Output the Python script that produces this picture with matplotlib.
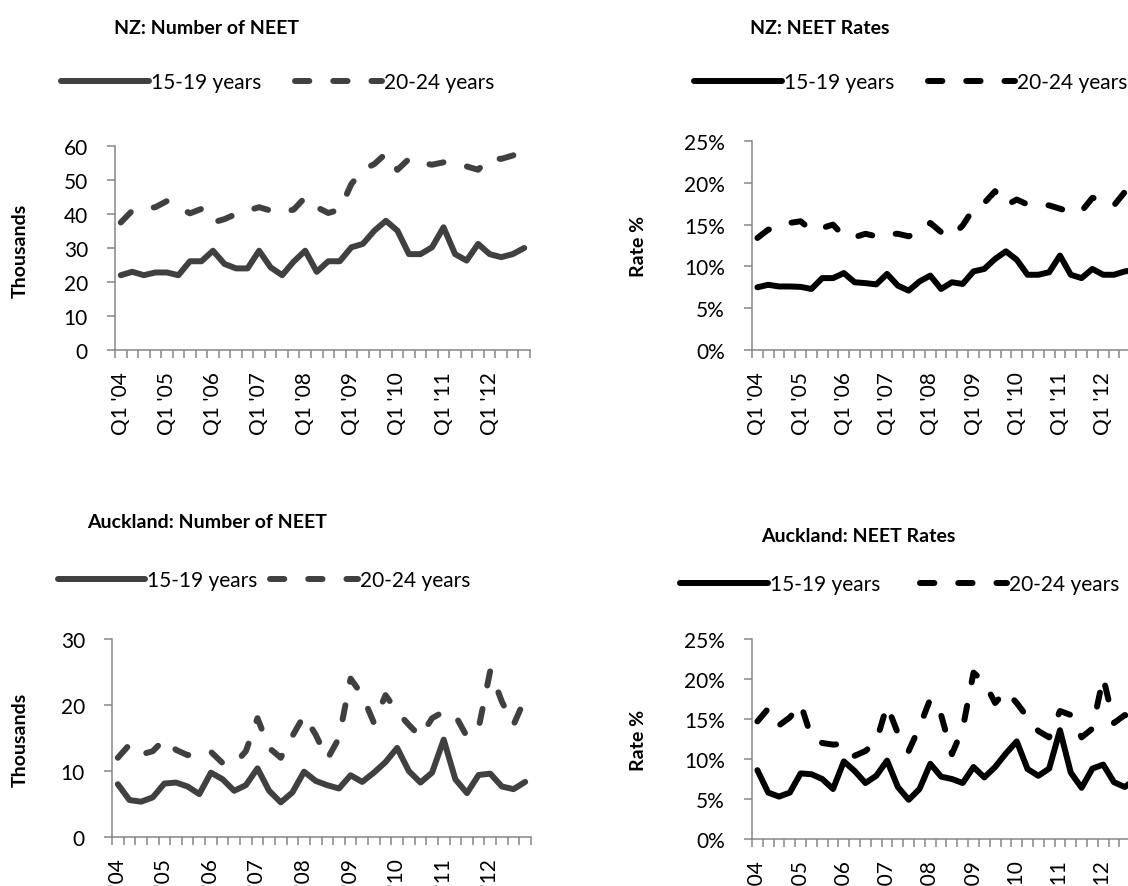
import matplotlib.pyplot as plt
from matplotlib.ticker import FuncFormatter
import numpy as np

# DATA (Q1 2004 .. Q4 2012)
years = ["04", "05", "06", "07", "08", "09", "10", "11", "12"]
quarters = ["Q%d '%s" % (q, y) for y in years for q in range(1, 5)]

nz_num_1519 = [22.0, 23.0, 22.0, 22.8, 22.8, 22.0, 26.1, 26.1, 29.2, 25.3, 24.0, 24.0,
               29.2, 24.3, 22.0, 26.0, 29.2, 23.0, 26.1, 26.1, 30.2, 31.2, 35.1, 38.0,
               35.1, 28.2, 28.2, 30.2, 36.1, 28.2, 26.3, 31.2, 28.2, 27.3, 28.2, 30.0]
nz_num_2024 = [37.5, 41.0, 41.5, 42.0, 43.8, 42.0, 40.2, 41.5, 37.5, 38.5, 40.0, 41.0,
               42.0, 41.0, 40.5, 41.3, 44.9, 42.0, 40.3, 41.3, 48.8, 53.0, 54.7, 57.8,
               53.0, 56.2, 55.0, 54.5, 55.2, 54.3, 54.0, 53.0, 56.5, 56.2, 57.2, 58.5]

nz_rate_1519 = [7.5, 7.8, 7.6, 7.6, 7.55, 7.3, 8.6, 8.6, 9.2, 8.1, 8.0, 7.85,
                9.1, 7.7, 7.1, 8.2, 8.9, 7.3, 8.1, 7.9, 9.4, 9.7, 10.9, 11.8,
                10.8, 9.0, 9.0, 9.3, 11.3, 9.0, 8.6, 9.7, 9.0, 9.0, 9.4, 9.6]
nz_rate_2024 = [13.4, 14.4, 14.6, 15.2, 15.4, 14.3, 14.6, 15.0, 13.6, 13.5, 13.9, 13.6,
                13.9, 13.9, 13.6, 14.2, 15.2, 14.1, 13.6, 14.9, 16.9, 17.6, 19.0, 17.3,
                18.0, 17.4, 17.4, 17.3, 16.9, 16.5, 16.6, 18.2, 18.0, 17.3, 18.9, 19.2]

akl_num_1519 = [8.0, 5.6, 5.35, 6.0, 8.1, 8.25, 7.65, 6.5, 9.75, 8.75, 7.0, 7.85,
                10.4, 7.0, 5.25, 6.75, 9.9, 8.5, 7.85, 7.35, 9.35, 8.35, 9.75, 11.35,
                13.5, 10.0, 8.25, 9.75, 14.75, 8.75, 6.65, 9.4, 9.6, 7.65, 7.25, 8.35]
akl_num_2024 = [12.0, 14.0, 12.5, 13.0, 14.8, 13.2, 12.4, 12.8, 12.9, 11.2, 11.0, 13.0,
                18.0, 13.5, 12.0, 15.3, 18.4, 15.5, 11.8, 15.0, 24.0, 21.5, 17.3, 21.5,
                19.0, 17.0, 15.2, 18.0, 19.0, 18.4, 15.2, 16.5, 25.2, 20.5, 17.0, 21.0]

akl_rate_1519 = [8.6, 5.8, 5.3, 5.8, 8.2, 8.1, 7.5, 6.25, 9.7, 8.5, 7.0, 7.9,
                 9.8, 6.5, 4.9, 6.25, 9.4, 7.8, 7.5, 7.0, 9.0, 7.7, 9.0, 10.7,
                 12.2, 8.75, 7.9, 8.8, 13.6, 8.3, 6.4, 8.8, 9.3, 7.1, 6.5, 7.5]
akl_rate_2024 = [14.7, 16.3, 14.2, 15.2, 16.9, 12.7, 12.0, 11.8, 11.9, 10.4, 11.0, 12.2,
                 16.7, 13.2, 11.0, 14.0, 17.5, 15.5, 10.6, 13.8, 20.8, 19.6, 17.0, 18.5,
                 17.0, 15.2, 13.5, 12.7, 16.0, 15.5, 12.7, 13.8, 20.2, 14.5, 15.5, 15.0]

series_names = ["15-19 years", "20-24 years"]

# LAYOUT

W, H = 1128, 887
plt.rcParams['font.family'] = ['Lato', 'DejaVu Sans']
fig = plt.figure(figsize=(W / 100, H / 100), dpi=100)
AXIS_GREY = '#868686'


def box(x0, x1, ytop, ybot):
    return [x0 / W, 1 - ybot / H, (x1 - x0) / W, (ybot - ytop) / H]


def panel(rect, s1, s2, ymax, step, pct, color, title, title_xy, ylabel, ylab_xy, leg_xy, colsp):
    ax = fig.add_axes(rect)
    x = np.arange(len(quarters)) + 0.5
    ax.plot(x, s1, color=color, lw=4.3, solid_capstyle='round', solid_joinstyle='round',
            label=series_names[0])
    ax.plot(x, s2, color=color, lw=4.3, linestyle=(0, (2.4, 4.0)), dash_capstyle='round',
            dash_joinstyle='round', label=series_names[1])
    ax.set_xlim(0, len(quarters))
    ax.set_ylim(0, ymax)
    ax.set_yticks(np.arange(0, ymax + step / 2, step))
    if pct:
        ax.yaxis.set_major_formatter(FuncFormatter(lambda v, p: '%d%%' % round(v)))
    ax.set_xticks(x[::4])
    ax.set_xticklabels(quarters[::4], rotation=90)
    ax.set_xticks(np.arange(len(quarters) + 1), minor=True)
    ax.tick_params(axis='x', which='major', length=0, pad=15, labelsize=15)
    ax.tick_params(axis='x', which='minor', length=5.5, width=1.1, color=AXIS_GREY, direction='out')
    ax.tick_params(axis='y', length=5.5, width=1.1, color=AXIS_GREY, pad=14, labelsize=15)
    for s in ['top', 'right']:
        ax.spines[s].set_visible(False)
    for s in ['left', 'bottom']:
        ax.spines[s].set_color(AXIS_GREY)
        ax.spines[s].set_linewidth(1.1)
    ax.set_facecolor('none')

    fig.text(title_xy[0] / W, 1 - title_xy[1] / H, title, ha='center', va='center',
             fontsize=14, fontweight='bold')
    fig.text(ylab_xy[0] / W, 1 - ylab_xy[1] / H, ylabel, ha='center', va='center',
             rotation=90, fontsize=14, fontweight='bold')
    ax.legend(loc='center', bbox_to_anchor=(leg_xy[0] / W, 1 - leg_xy[1] / H),
              bbox_transform=fig.transFigure, ncol=2, frameon=False, fontsize=15,
              handlelength=4.2, handletextpad=0.1, columnspacing=colsp, borderpad=0)
    return ax


panel(box(115, 530, 147, 351), nz_num_1519, nz_num_2024, 60, 10, False, '#404040',
      'NZ: Number of NEET', (207, 28), 'Thousands', (20, 251), (278, 83), 1.6)
panel(box(752, 1141, 142, 351), nz_rate_1519, nz_rate_2024, 25, 5, True, 'black',
      'NZ: NEET Rates', (820, 28), 'Rate %', (638, 246), (911, 83), 1.6)
panel(box(112, 531, 640, 838), akl_num_1519, akl_num_2024, 30, 10, False, '#404040',
      'Auckland: Number of NEET', (207, 523), 'Thousands', (20, 740), (264, 581), 0.6)
panel(box(752, 1141, 640, 840), akl_rate_1519, akl_rate_2024, 25, 5, True, 'black',
      'Auckland: NEET Rates', (858, 536), 'Rate %', (638, 740), (900, 585), 1.9)

fig.savefig('out.png', dpi=100)
